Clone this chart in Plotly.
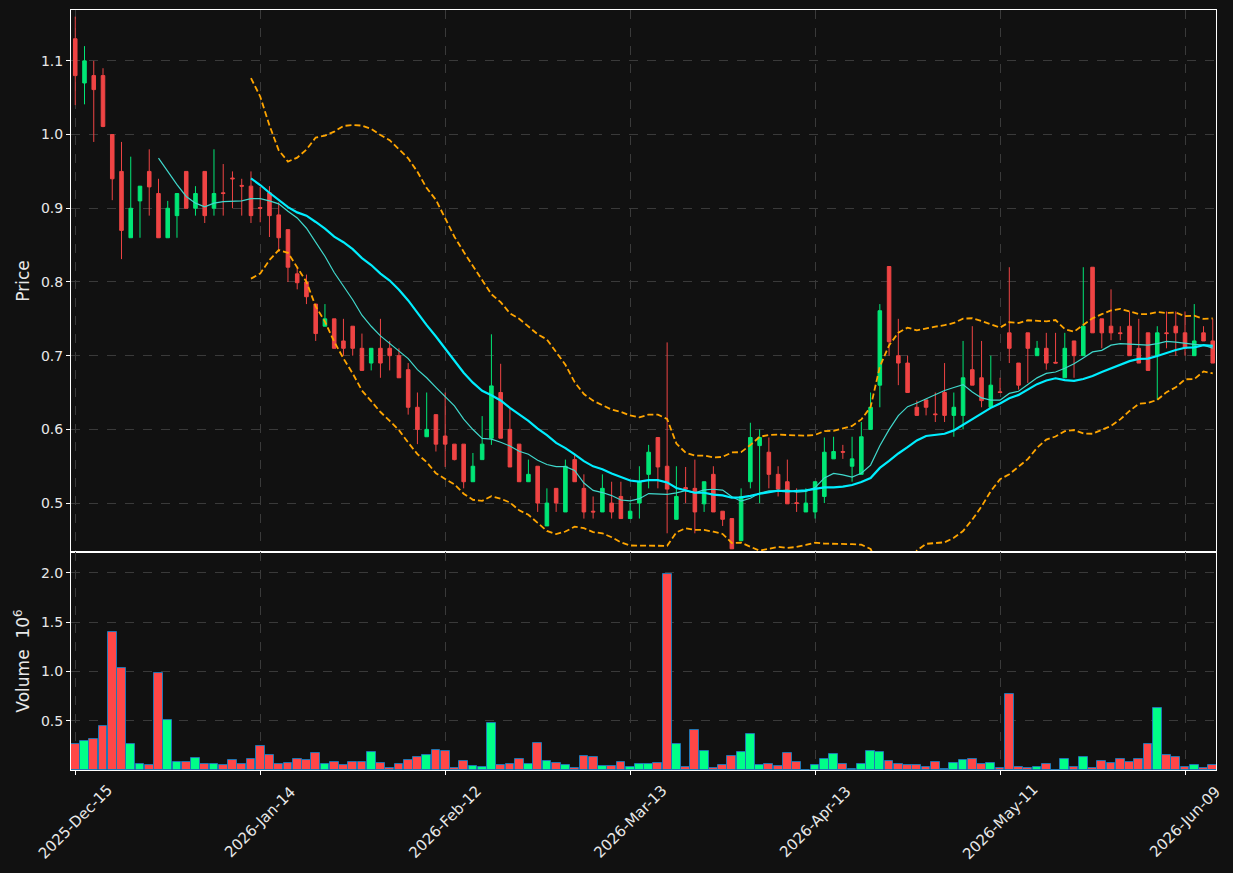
import pandas as pd
import plotly.graph_objects as go
from plotly.subplots import make_subplots

open_ = [1.130, 1.070, 1.080, 1.080, 1.000, 0.950, 0.860, 0.910, 0.950, 0.920,
         0.860, 0.890, 0.950, 0.900, 0.950, 0.900, 0.921, 0.941, 0.931, 0.930,
         0.901, 0.921, 0.891, 0.871, 0.811, 0.800, 0.770, 0.740, 0.750, 0.720,
         0.740, 0.710, 0.690, 0.710, 0.710, 0.700, 0.681, 0.630, 0.590, 0.620,
         0.591, 0.580, 0.580, 0.529, 0.559, 0.588, 0.650, 0.600, 0.580, 0.529,
         0.550, 0.469, 0.520, 0.488, 0.559, 0.520, 0.489, 0.488, 0.500, 0.509,
         0.479, 0.500, 0.539, 0.589, 0.550, 0.478, 0.521, 0.520, 0.499, 0.539,
         0.489, 0.479, 0.449, 0.529, 0.578, 0.569, 0.539, 0.529, 0.5005, 0.488,
         0.488, 0.509, 0.560, 0.570, 0.550, 0.539, 0.600, 0.660, 0.821, 0.700,
         0.690, 0.630, 0.640, 0.621, 0.650, 0.619, 0.619, 0.681, 0.670, 0.630,
         0.651, 0.731, 0.690, 0.731, 0.700, 0.710, 0.691, 0.670, 0.720, 0.700,
         0.820, 0.750, 0.740, 0.731, 0.740, 0.710, 0.731, 0.700, 0.731, 0.740,
         0.731, 0.700, 0.731, 0.720]
high = [1.160, 1.120, 1.100, 1.090, 1.000, 0.990, 0.970, 0.930, 0.980, 0.940,
        0.910, 0.920, 0.950, 0.930, 0.950, 0.980, 0.960, 0.950, 0.940, 0.950,
        0.929, 0.930, 0.908, 0.871, 0.820, 0.810, 0.770, 0.770, 0.750, 0.750,
        0.740, 0.730, 0.710, 0.750, 0.720, 0.710, 0.690, 0.650, 0.650, 0.620,
        0.650, 0.580, 0.580, 0.568, 0.618, 0.729, 0.689, 0.628, 0.580, 0.559,
        0.550, 0.520, 0.520, 0.559, 0.567, 0.539, 0.509, 0.539, 0.529, 0.529,
        0.500, 0.550, 0.579, 0.589, 0.718, 0.550, 0.549, 0.559, 0.529, 0.550,
        0.489, 0.479, 0.520, 0.609, 0.600, 0.589, 0.550, 0.559, 0.520, 0.520,
        0.529, 0.589, 0.590, 0.579, 0.590, 0.610, 0.650, 0.770, 0.821, 0.750,
        0.700, 0.639, 0.640, 0.650, 0.690, 0.650, 0.720, 0.740, 0.720, 0.700,
        0.670, 0.820, 0.690, 0.731, 0.720, 0.731, 0.731, 0.731, 0.720, 0.820,
        0.820, 0.750, 0.790, 0.740, 0.760, 0.750, 0.731, 0.740, 0.760, 0.760,
        0.760, 0.770, 0.740, 0.750]
low = [1.040, 1.041, 0.990, 1.010, 0.911, 0.831, 0.860, 0.860, 0.890, 0.860,
       0.860, 0.860, 0.900, 0.890, 0.880, 0.890, 0.890, 0.900, 0.890, 0.880,
       0.881, 0.861, 0.841, 0.800, 0.790, 0.770, 0.720, 0.740, 0.710, 0.700,
       0.700, 0.680, 0.680, 0.670, 0.680, 0.670, 0.620, 0.580, 0.590, 0.570,
       0.549, 0.558, 0.520, 0.529, 0.559, 0.579, 0.588, 0.549, 0.529, 0.529,
       0.488, 0.469, 0.488, 0.488, 0.529, 0.479, 0.479, 0.488, 0.479, 0.479,
       0.479, 0.479, 0.520, 0.520, 0.459, 0.478, 0.500, 0.459, 0.488, 0.488,
       0.469, 0.438, 0.449, 0.520, 0.500, 0.520, 0.509, 0.499, 0.488, 0.488,
       0.479, 0.500, 0.560, 0.560, 0.529, 0.539, 0.600, 0.630, 0.700, 0.660,
       0.650, 0.619, 0.619, 0.610, 0.610, 0.590, 0.600, 0.660, 0.630, 0.630,
       0.650, 0.690, 0.654, 0.663, 0.700, 0.681, 0.690, 0.670, 0.670, 0.700,
       0.731, 0.710, 0.721, 0.721, 0.700, 0.690, 0.680, 0.640, 0.710, 0.700,
       0.700, 0.700, 0.720, 0.690]
close = [1.080, 1.100, 1.061, 1.011, 0.940, 0.870, 0.900, 0.930, 0.929, 0.860,
         0.900, 0.920, 0.900, 0.920, 0.890, 0.920, 0.920, 0.940, 0.930, 0.890,
         0.900, 0.890, 0.860, 0.820, 0.799, 0.780, 0.730, 0.750, 0.710, 0.710,
         0.710, 0.680, 0.710, 0.690, 0.700, 0.670, 0.630, 0.600, 0.600, 0.580,
         0.580, 0.559, 0.529, 0.550, 0.580, 0.659, 0.588, 0.549, 0.529, 0.539,
         0.500, 0.500, 0.500, 0.550, 0.529, 0.488, 0.488, 0.520, 0.488, 0.479,
         0.489, 0.529, 0.569, 0.549, 0.519, 0.509, 0.519, 0.488, 0.529, 0.488,
         0.478, 0.438, 0.509, 0.589, 0.589, 0.539, 0.519, 0.499, 0.4995, 0.500,
         0.529, 0.569, 0.570, 0.569, 0.560, 0.590, 0.630, 0.761, 0.719, 0.690,
         0.650, 0.619, 0.630, 0.620, 0.619, 0.630, 0.670, 0.660, 0.639, 0.660,
         0.650, 0.710, 0.660, 0.710, 0.710, 0.690, 0.690, 0.710, 0.700, 0.740,
         0.731, 0.731, 0.731, 0.730, 0.700, 0.690, 0.680, 0.731, 0.730, 0.731,
         0.710, 0.720, 0.720, 0.690]
volume_m = [0.27, 0.30, 0.32, 0.45, 1.395, 1.04, 0.27, 0.068, 0.057, 0.98,
            0.51, 0.084, 0.084, 0.128, 0.068, 0.068, 0.057, 0.108, 0.068, 0.118,
            0.25, 0.159, 0.068, 0.078, 0.118, 0.108, 0.179, 0.068, 0.088, 0.057,
            0.088, 0.088, 0.189, 0.078, 0.027, 0.068, 0.108, 0.138, 0.159, 0.21,
            0.20, 0.027, 0.098, 0.047, 0.037, 0.48, 0.057, 0.068, 0.118, 0.068,
            0.28, 0.098, 0.078, 0.057, 0.027, 0.149, 0.138, 0.047, 0.047, 0.088,
            0.037, 0.068, 0.068, 0.078, 1.99, 0.27, 0.037, 0.41, 0.20, 0.027,
            0.057, 0.149, 0.189, 0.37, 0.057, 0.068, 0.047, 0.179, 0.088, 0.007,
            0.057, 0.118, 0.169, 0.068, 0.017, 0.068, 0.20, 0.189, 0.098, 0.068,
            0.057, 0.057, 0.037, 0.088, 0.017, 0.078, 0.108, 0.118, 0.068, 0.078,
            0.027, 0.776, 0.037, 0.027, 0.037, 0.068, 0.005, 0.118, 0.037, 0.138,
            0.027, 0.098, 0.078, 0.118, 0.088, 0.118, 0.27, 0.635, 0.159, 0.138,
            0.037, 0.057, 0.027, 0.057]

tick_index = [0, 20, 40, 60, 80, 100, 120]
tick_labels = ["2025-Dec-15", "2026-Jan-14", "2026-Feb-12", "2026-Mar-13",
               "2026-Apr-13", "2026-May-11", "2026-Jun-09"]

idx = list(range(len(close)))
s = pd.Series(close)
ma10 = s.rolling(10).mean()
ma20 = s.rolling(20).mean()
sd20 = s.rolling(20).std()
bb_up = ma20 + 2 * sd20
bb_lo = ma20 - 2 * sd20

UP_C, DN_C = "#00e676", "#ef4444"
VUP_C, VDN_C = "#00ff88", "#ff4747"
vol_colors = [VUP_C if c >= o else VDN_C for o, c in zip(open_, close)]

fig = make_subplots(rows=2, cols=1, shared_xaxes=True, vertical_spacing=0,
                    row_heights=[0.7132, 0.2868])

fig.add_trace(go.Candlestick(
    x=idx, open=open_, high=high, low=low, close=close,
    increasing=dict(line=dict(color=UP_C, width=1), fillcolor=UP_C),
    decreasing=dict(line=dict(color=DN_C, width=1), fillcolor=DN_C),
    whiskerwidth=0, showlegend=False), row=1, col=1)

fig.add_trace(go.Scatter(x=idx, y=bb_up, mode="lines",
                         line=dict(color="#ffa500", width=1.8, dash="6px,3px"),
                         showlegend=False), row=1, col=1)
fig.add_trace(go.Scatter(x=idx, y=bb_lo, mode="lines",
                         line=dict(color="#ffa500", width=1.8, dash="6px,3px"),
                         showlegend=False), row=1, col=1)
fig.add_trace(go.Scatter(x=idx, y=ma10, mode="lines",
                         line=dict(color="#40d8cc", width=1.2),
                         showlegend=False), row=1, col=1)
fig.add_trace(go.Scatter(x=idx, y=ma20, mode="lines",
                         line=dict(color="#00eeff", width=2.2),
                         showlegend=False), row=1, col=1)

fig.add_trace(go.Bar(x=idx, y=volume_m, marker=dict(color=vol_colors,
                     line=dict(color="#1f77b4", width=1)),
                     width=0.95, showlegend=False), row=2, col=1)

grid = dict(showgrid=True, gridcolor="#3a3a3a", griddash="dash", gridwidth=1,
            showline=True, linecolor="white", linewidth=1, mirror=True,
            ticks="outside", tickcolor="white", ticklen=4, zeroline=False)

fig.update_xaxes(range=[-0.46, 123.35], tickvals=tick_index, ticktext=tick_labels,
                 showticklabels=False, **grid)
fig.update_xaxes(rangeslider_visible=False, row=1, col=1)
fig.update_yaxes(range=[0.4336, 1.169], tickvals=[0.5, 0.6, 0.7, 0.8, 0.9, 1.0, 1.1],
                 tickformat=".1f", title=dict(text="Price", standoff=6), row=1, col=1, **grid)
fig.update_yaxes(range=[0.003, 2.21], tickvals=[0.5, 1.0, 1.5, 2.0], tickformat=".1f",
                 title=dict(text="Volume  10<sup>6</sup>", standoff=6), row=2, col=1, **grid)

for ti, tl in zip(tick_index, tick_labels):
    fig.add_annotation(x=ti, xref="x2", y=-0.0684, yref="paper", text=tl,
                       textangle=-45, showarrow=False, xanchor="center",
                       yanchor="middle", font=dict(size=15, color="#e8e8e8"))

fig.update_layout(
    width=1233, height=873,
    margin=dict(l=71, r=17, t=10, b=103),
    paper_bgcolor="#111111", plot_bgcolor="#111111",
    font=dict(family="DejaVu Sans", color="#e8e8e8", size=14),
    boxgap=0.45, bargap=0, showlegend=False,
)

fig.write_html("out.html")
